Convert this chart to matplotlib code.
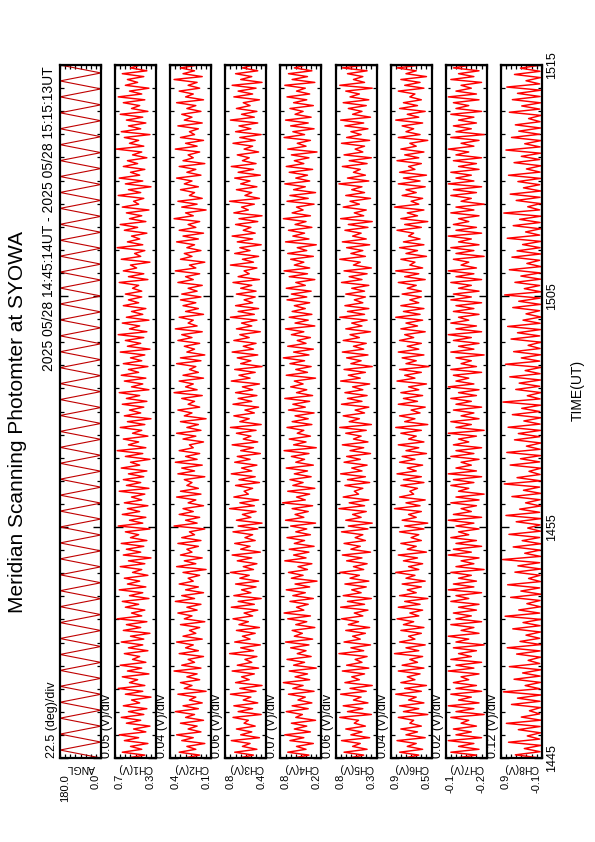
import matplotlib
matplotlib.use('Agg')
import matplotlib.pyplot as plt
import numpy as np
from matplotlib.ticker import MultipleLocator

plt.rcParams['font.family'] = ['Liberation Sans', 'DejaVu Sans']

# ---------------- data ----------------
title = "Meridian Scanning Photomter at SYOWA"
header = "2025 05/28 14:45:14UT - 2025 05/28 15:15:13UT"
names = ['ANGL', 'CH1(V)', 'CH2(V)', 'CH3(V)', 'CH4(V)', 'CH5(V)', 'CH6(V)', 'CH7(V)', 'CH8(V)']
scale_labels = ['22.5 (deg)/div', '0.05 (V)/div', '0.04 (V)/div', '0.06 (V)/div', '0.07 (V)/div',
                '0.06 (V)/div', '0.04 (V)/div', '0.02 (V)/div', '0.12 (V)/div']
vmins = [0.0, 0.30, 0.10, 0.36, 0.20, 0.30, 0.54, -0.24, -0.10]
divs = [22.5, 0.05, 0.04, 0.06, 0.07, 0.06, 0.04, 0.02, 0.12]
tick_hi = ['180.0', '0.7', '0.4', '0.8', '0.8', '0.8', '0.9', '-0.1', '0.9']
tick_lo = ['0.0', '0.3', '0.1', '0.4', '0.2', '0.3', '0.5', '-0.2', '-0.1']
time_ticks = [0, 10, 20, 30]          # minutes after 14:45
time_labels = ['1445', '1455', '1505', '1515']

ang = [0, 180, 0, 180, 0, 180, 0, 180, 0, 180, 0, 180, 0, 180, 0, 180, 0, 180, 0, 180,
       0, 180, 0, 180, 0, 180, 0, 180, 0, 180, 0, 180, 0, 180, 0, 180, 0, 180, 0, 180,
       0, 180, 0, 180, 0, 180, 0, 180, 0, 180, 0, 180, 0, 180, 0, 180, 0, 180, 0, 180,
       0, 180, 0, 180, 0, 180, 0, 180, 0, 180, 0, 180, 0, 180, 0, 180, 0, 180, 0, 180,
       0, 180, 0, 180, 0, 180, 0, 180]

ch1 = [0.58,0.41,0.63,0.44,0.55,0.38,0.61,0.47,0.66,0.40,0.52,0.36,0.59,0.45,0.64,0.42,0.57,0.39,0.62,0.46,
       0.54,0.35,0.60,0.43,0.67,0.41,0.56,0.48,0.63,0.37,0.58,0.44,0.65,0.40,0.53,0.46,0.61,0.38,0.57,0.43,
       0.64,0.42,0.55,0.36,0.62,0.45,0.59,0.39,0.68,0.44,0.54,0.41,0.60,0.47,0.63,0.37,0.56,0.43,0.66,0.40,
       0.58,0.46,0.61,0.38,0.53,0.44,0.65,0.41,0.57,0.35,0.62,0.45,0.59,0.42,0.64,0.39,0.55,0.47,0.60,0.36,
       0.67,0.43,0.56,0.40,0.63,0.46,0.58,0.38,0.61,0.44,0.54,0.41,0.66,0.37,0.59,0.45,0.62,0.42,0.57,0.39,
       0.64,0.46,0.55,0.36,0.60,0.43,0.68,0.40,0.57,0.47,0.62,0.38,0.53,0.44,0.65,0.41,0.58,0.35,0.61,0.45,
       0.56,0.42,0.63,0.39,0.59,0.46,0.66,0.37,0.54,0.43,0.61,0.40,0.64,0.47,0.57,0.38,0.62,0.44,0.55,0.41,
       0.65,0.36,0.58,0.45,0.60,0.42,0.67,0.39,0.56,0.46,0.63,0.37,0.59,0.43,0.54,0.40,0.62,0.47,0.57,0.44,
       0.60,0.44,0.53,0.47,0.66,0.38,0.57,0.42,0.62,0.49,0.55,0.36,0.64,0.45,0.51,0.41,0.68,0.43,0.58,0.46,
       0.54,0.39,0.61,0.48,0.65,0.40,0.56,0.44,0.59,0.37,0.63,0.47,0.52,0.42,0.67,0.45,0.57,0.35,0.60,0.43,
       0.66,0.46,0.55,0.41,0.62,0.48,0.58,0.39,0.53,0.44,0.69,0.42,0.56,0.47,0.61,0.36,0.64,0.45,0.57,0.40,
       0.59,0.43,0.65,0.38,0.54,0.46,0.62,0.41,0.67,0.44,0.56,0.37,0.60,0.48,0.58,0.42,0.63,0.39,0.55,0.45]

ch2 = [0.31,0.19,0.35,0.22,0.29,0.15,0.33,0.24,0.37,0.18,0.28,0.21,0.34,0.16,0.30,0.23,0.38,0.20,0.32,0.17,
       0.27,0.22,0.36,0.14,0.31,0.25,0.34,0.19,0.29,0.21,0.39,0.18,0.33,0.23,0.28,0.16,0.35,0.20,0.30,0.24,
       0.37,0.17,0.32,0.22,0.27,0.19,0.34,0.15,0.31,0.25,0.36,0.21,0.29,0.18,0.38,0.23,0.33,0.16,0.30,0.20,
       0.35,0.24,0.28,0.19,0.32,0.14,0.37,0.22,0.31,0.17,0.34,0.25,0.29,0.20,0.36,0.18,0.33,0.23,0.27,0.15,
       0.39,0.21,0.30,0.19,0.35,0.24,0.32,0.16,0.28,0.22,0.37,0.18,0.34,0.20,0.29,0.25,0.31,0.15,0.36,0.23,
       0.33,0.17,0.38,0.21,0.30,0.19,0.35,0.24,0.27,0.16,0.32,0.22,0.37,0.18,0.29,0.20,0.34,0.14,0.31,0.25,
       0.36,0.19,0.28,0.23,0.33,0.17,0.39,0.21,0.30,0.24,0.35,0.16,0.32,0.20,0.27,0.22,0.37,0.18,0.34,0.15,
       0.29,0.23,0.31,0.19,0.36,0.25,0.33,0.17,0.38,0.21,0.28,0.24,0.35,0.16,0.30,0.20,0.32,0.22,0.34,0.18,
       0.33,0.21,0.28,0.17,0.36,0.24,0.30,0.19,0.38,0.22,0.27,0.15,0.34,0.25,0.31,0.18,0.29,0.23,0.37,0.20,
       0.32,0.16,0.35,0.22,0.28,0.19,0.39,0.24,0.30,0.14,0.33,0.21,0.36,0.17,0.27,0.23,0.34,0.20,0.31,0.25,
       0.37,0.18,0.29,0.22,0.35,0.15,0.32,0.24,0.28,0.19,0.38,0.21,0.30,0.16,0.34,0.23,0.27,0.20,0.36,0.17,
       0.31,0.25,0.33,0.18,0.29,0.22,0.37,0.16,0.30,0.24,0.35,0.19,0.28,0.21,0.39,0.17,0.32,0.23,0.34,0.20]

ch3 = [0.68,0.51,0.73,0.47,0.64,0.55,0.77,0.44,0.66,0.53,0.71,0.49,0.62,0.57,0.75,0.42,0.69,0.52,0.74,0.46,
       0.63,0.54,0.78,0.48,0.67,0.41,0.72,0.56,0.65,0.50,0.76,0.45,0.70,0.53,0.61,0.47,0.79,0.51,0.66,0.43,
       0.73,0.55,0.64,0.49,0.71,0.44,0.68,0.57,0.75,0.52,0.62,0.46,0.77,0.50,0.69,0.42,0.74,0.54,0.65,0.48,
       0.72,0.45,0.67,0.56,0.78,0.51,0.63,0.47,0.70,0.53,0.76,0.43,0.66,0.55,0.73,0.49,0.61,0.52,0.75,0.46,
       0.69,0.41,0.71,0.54,0.64,0.48,0.79,0.50,0.67,0.45,0.74,0.57,0.62,0.52,0.72,0.44,0.68,0.49,0.77,0.53,
       0.65,0.47,0.73,0.55,0.70,0.43,0.66,0.51,0.76,0.46,0.63,0.54,0.71,0.48,0.78,0.42,0.67,0.56,0.74,0.50,
       0.61,0.45,0.75,0.53,0.69,0.47,0.72,0.52,0.64,0.44,0.77,0.55,0.68,0.49,0.73,0.41,0.66,0.54,0.70,0.46,
       0.76,0.51,0.63,0.48,0.74,0.56,0.67,0.43,0.71,0.53,0.65,0.47,0.78,0.50,0.69,0.45,0.72,0.52,0.62,0.49,
       0.71,0.48,0.66,0.53,0.75,0.44,0.69,0.56,0.62,0.47,0.78,0.51,0.64,0.45,0.73,0.55,0.67,0.42,0.70,0.52,
       0.76,0.49,0.63,0.54,0.72,0.46,0.68,0.41,0.74,0.57,0.65,0.50,0.79,0.44,0.61,0.53,0.71,0.47,0.66,0.55,
       0.73,0.43,0.69,0.51,0.77,0.48,0.64,0.56,0.70,0.45,0.62,0.52,0.75,0.49,0.67,0.42,0.72,0.54,0.68,0.46,
       0.78,0.50,0.65,0.47,0.71,0.55,0.63,0.44,0.74,0.52,0.69,0.48,0.76,0.41,0.66,0.53,0.72,0.46,0.64,0.51]

ch4 = [0.58,0.37,0.66,0.41,0.54,0.31,0.63,0.44,0.70,0.35,0.57,0.40,0.61,0.28,0.55,0.46,0.68,0.38,0.60,0.33,
       0.52,0.42,0.65,0.30,0.59,0.45,0.72,0.36,0.56,0.39,0.64,0.27,0.58,0.43,0.67,0.34,0.53,0.41,0.62,0.37,
       0.69,0.32,0.57,0.46,0.60,0.29,0.55,0.40,0.66,0.35,0.71,0.44,0.54,0.38,0.63,0.31,0.59,0.42,0.68,0.36,
       0.56,0.26,0.61,0.45,0.65,0.39,0.52,0.33,0.70,0.41,0.58,0.37,0.64,0.30,0.57,0.43,0.67,0.35,0.55,0.40,
       0.62,0.28,0.69,0.44,0.56,0.38,0.60,0.32,0.73,0.42,0.54,0.36,0.66,0.29,0.59,0.45,0.63,0.34,0.57,0.39,
       0.68,0.31,0.55,0.43,0.61,0.37,0.71,0.27,0.58,0.41,0.64,0.35,0.53,0.44,0.67,0.33,0.60,0.38,0.56,0.30,
       0.65,0.42,0.59,0.36,0.70,0.32,0.54,0.40,0.62,0.45,0.57,0.28,0.68,0.39,0.55,0.34,0.63,0.43,0.72,0.37,
       0.58,0.31,0.66,0.41,0.53,0.35,0.61,0.44,0.69,0.29,0.56,0.38,0.64,0.33,0.60,0.42,0.57,0.36,0.67,0.40,
       0.61,0.34,0.68,0.42,0.55,0.29,0.64,0.39,0.71,0.36,0.57,0.44,0.62,0.31,0.66,0.40,0.53,0.27,0.69,0.37,
       0.59,0.43,0.65,0.33,0.56,0.41,0.72,0.35,0.60,0.45,0.54,0.30,0.67,0.38,0.63,0.28,0.58,0.42,0.70,0.36,
       0.55,0.39,0.64,0.32,0.68,0.44,0.57,0.37,0.61,0.26,0.66,0.41,0.53,0.35,0.71,0.43,0.59,0.30,0.62,0.38,
       0.69,0.34,0.56,0.45,0.63,0.31,0.58,0.40,0.67,0.36,0.54,0.42,0.70,0.29,0.60,0.39,0.65,0.33,0.57,0.41]

ch5 = [0.62,0.45,0.68,0.41,0.58,0.49,0.71,0.38,0.60,0.47,0.66,0.43,0.56,0.51,0.73,0.36,0.64,0.46,0.69,0.40,
       0.57,0.48,0.72,0.42,0.61,0.35,0.67,0.50,0.59,0.44,0.70,0.39,0.65,0.47,0.55,0.41,0.74,0.45,0.60,0.37,
       0.68,0.49,0.58,0.43,0.66,0.38,0.63,0.51,0.71,0.46,0.56,0.40,0.72,0.44,0.64,0.36,0.69,0.48,0.59,0.42,
       0.67,0.39,0.61,0.50,0.73,0.45,0.57,0.41,0.65,0.47,0.70,0.37,0.60,0.49,0.68,0.43,0.55,0.46,0.71,0.40,
       0.63,0.35,0.66,0.48,0.58,0.42,0.74,0.44,0.62,0.39,0.69,0.51,0.56,0.46,0.67,0.38,0.64,0.43,0.72,0.47,
       0.59,0.41,0.68,0.49,0.65,0.37,0.61,0.45,0.70,0.40,0.57,0.48,0.66,0.42,0.73,0.36,0.62,0.50,0.69,0.44,
       0.55,0.39,0.71,0.47,0.64,0.41,0.67,0.46,0.58,0.38,0.72,0.49,0.63,0.43,0.68,0.35,0.60,0.48,0.65,0.40,
       0.70,0.45,0.57,0.42,0.69,0.50,0.61,0.37,0.66,0.47,0.59,0.41,0.73,0.44,0.64,0.39,0.67,0.46,0.56,0.43,
       0.66,0.44,0.59,0.39,0.71,0.47,0.62,0.41,0.68,0.36,0.57,0.49,0.73,0.43,0.60,0.46,0.65,0.38,0.70,0.42,
       0.58,0.48,0.67,0.40,0.63,0.35,0.72,0.45,0.56,0.42,0.69,0.50,0.61,0.37,0.66,0.44,0.59,0.47,0.74,0.39,
       0.64,0.43,0.57,0.49,0.70,0.41,0.62,0.36,0.68,0.46,0.55,0.44,0.71,0.38,0.65,0.48,0.60,0.40,0.67,0.45,
       0.72,0.37,0.58,0.47,0.63,0.42,0.69,0.39,0.61,0.50,0.66,0.35,0.73,0.44,0.57,0.46,0.64,0.41,0.70,0.43]

ch6 = [0.75,0.64,0.79,0.61,0.73,0.66,0.81,0.59,0.74,0.65,0.78,0.62,0.71,0.68,0.80,0.57,0.76,0.64,0.79,0.60,
       0.72,0.66,0.82,0.62,0.75,0.58,0.78,0.67,0.73,0.63,0.80,0.60,0.77,0.65,0.71,0.61,0.83,0.64,0.74,0.59,
       0.79,0.67,0.72,0.62,0.78,0.60,0.76,0.68,0.81,0.64,0.71,0.61,0.80,0.63,0.75,0.57,0.79,0.66,0.73,0.62,
       0.77,0.59,0.74,0.67,0.82,0.64,0.72,0.61,0.76,0.65,0.80,0.58,0.73,0.66,0.78,0.62,0.70,0.64,0.79,0.60,
       0.75,0.57,0.77,0.66,0.72,0.62,0.83,0.63,0.74,0.59,0.79,0.68,0.71,0.65,0.78,0.60,0.76,0.62,0.81,0.66,
       0.73,0.61,0.79,0.67,0.77,0.58,0.74,0.64,0.80,0.60,0.72,0.66,0.78,0.62,0.82,0.57,0.75,0.67,0.79,0.63,
       0.70,0.59,0.80,0.65,0.76,0.61,0.78,0.64,0.72,0.58,0.81,0.67,0.75,0.62,0.79,0.56,0.74,0.66,0.77,0.60,
       0.80,0.64,0.73,0.62,0.79,0.68,0.75,0.59,0.78,0.65,0.74,0.61,0.82,0.63,0.76,0.60,0.78,0.64,0.71,0.62,
       0.77,0.62,0.73,0.66,0.80,0.59,0.75,0.64,0.82,0.61,0.71,0.67,0.78,0.58,0.74,0.65,0.79,0.60,0.76,0.63,
       0.72,0.68,0.81,0.62,0.75,0.57,0.78,0.65,0.73,0.60,0.83,0.64,0.70,0.61,0.77,0.66,0.74,0.59,0.80,0.63,
       0.76,0.58,0.79,0.67,0.72,0.62,0.81,0.64,0.75,0.60,0.78,0.66,0.71,0.57,0.80,0.63,0.74,0.68,0.77,0.61,
       0.82,0.64,0.73,0.59,0.79,0.65,0.76,0.62,0.71,0.67,0.80,0.60,0.75,0.63,0.78,0.58,0.74,0.66,0.81,0.62]

ch7 = [-0.12,-0.20,-0.10,-0.21,-0.13,-0.19,-0.09,-0.22,-0.12,-0.18,-0.11,-0.20,-0.14,-0.17,-0.10,-0.23,-0.12,-0.19,-0.09,-0.21,
       -0.13,-0.18,-0.10,-0.22,-0.12,-0.20,-0.11,-0.17,-0.14,-0.21,-0.09,-0.19,-0.12,-0.22,-0.10,-0.18,-0.13,-0.20,-0.11,-0.23,
       -0.12,-0.17,-0.09,-0.21,-0.14,-0.19,-0.10,-0.22,-0.12,-0.18,-0.11,-0.20,-0.13,-0.21,-0.10,-0.17,-0.12,-0.22,-0.09,-0.19,
       -0.11,-0.20,-0.13,-0.18,-0.10,-0.23,-0.12,-0.19,-0.14,-0.21,-0.09,-0.18,-0.11,-0.22,-0.12,-0.20,-0.10,-0.17,-0.13,-0.21,
       -0.12,-0.19,-0.09,-0.22,-0.11,-0.18,-0.14,-0.20,-0.10,-0.21,-0.12,-0.23,-0.13,-0.17,-0.10,-0.19,-0.11,-0.22,-0.09,-0.20,
       -0.12,-0.18,-0.14,-0.21,-0.10,-0.19,-0.12,-0.22,-0.11,-0.17,-0.13,-0.20,-0.09,-0.23,-0.12,-0.18,-0.10,-0.21,-0.14,-0.19,
       -0.11,-0.22,-0.12,-0.18,-0.10,-0.20,-0.13,-0.21,-0.09,-0.19,-0.12,-0.17,-0.11,-0.22,-0.10,-0.20,-0.14,-0.18,-0.12,-0.23,
       -0.10,-0.19,-0.13,-0.21,-0.11,-0.18,-0.09,-0.22,-0.12,-0.20,-0.10,-0.17,-0.13,-0.21,-0.11,-0.19,-0.12,-0.22,-0.10,-0.18,
       -0.11,-0.21,-0.13,-0.18,-0.10,-0.22,-0.12,-0.19,-0.09,-0.20,-0.14,-0.17,-0.11,-0.23,-0.12,-0.19,-0.10,-0.21,-0.13,-0.18,
       -0.09,-0.22,-0.12,-0.20,-0.11,-0.17,-0.13,-0.21,-0.10,-0.19,-0.12,-0.23,-0.14,-0.18,-0.10,-0.20,-0.11,-0.22,-0.09,-0.19,
       -0.12,-0.18,-0.10,-0.21,-0.13,-0.20,-0.11,-0.22,-0.12,-0.17,-0.09,-0.19,-0.14,-0.21,-0.10,-0.23,-0.12,-0.18,-0.11,-0.20,
       -0.13,-0.19,-0.10,-0.22,-0.12,-0.17,-0.11,-0.21,-0.09,-0.20,-0.12,-0.18,-0.14,-0.22,-0.10,-0.19,-0.13,-0.21,-0.11,-0.18]

ch8 = [-0.07,0.52,-0.06,0.31,-0.08,0.68,-0.05,0.24,-0.07,0.45,-0.06,0.73,-0.08,0.38,-0.05,0.19,-0.07,0.61,-0.06,0.47,
       -0.08,0.80,-0.05,0.29,-0.07,0.55,-0.06,0.35,-0.08,0.66,-0.05,0.22,-0.07,0.49,-0.06,0.71,-0.08,0.41,-0.05,0.27,
       -0.07,0.58,-0.06,0.34,-0.08,0.76,-0.05,0.44,-0.07,0.25,-0.06,0.63,-0.08,0.39,-0.05,0.70,-0.07,0.21,-0.06,0.53,
       -0.08,0.46,-0.05,0.82,-0.07,0.30,-0.06,0.57,-0.08,0.36,-0.05,0.67,-0.07,0.23,-0.06,0.50,-0.08,0.74,-0.05,0.42,
       -0.07,0.28,-0.06,0.60,-0.08,0.33,-0.05,0.78,-0.07,0.48,-0.06,0.20,-0.08,0.64,-0.05,0.40,-0.07,0.72,-0.06,0.26,
       -0.08,0.54,-0.05,0.45,-0.07,0.69,-0.06,0.32,-0.08,0.59,-0.05,0.37,-0.07,0.81,-0.06,0.24,-0.08,0.51,-0.05,0.43,
       -0.07,0.65,-0.06,0.29,-0.08,0.75,-0.05,0.38,-0.07,0.56,-0.06,0.22,-0.08,0.62,-0.05,0.47,-0.07,0.70,-0.06,0.34,
       -0.08,0.27,-0.05,0.58,-0.07,0.44,-0.06,0.77,-0.08,0.31,-0.05,0.53,-0.07,0.39,-0.06,0.66,-0.08,0.25,-0.05,0.60,-0.07,
       0.48,-0.06,0.35,-0.08,0.71,-0.05,0.28,-0.07,0.57,-0.06,0.42,-0.08,0.79,-0.05,0.23,-0.07,0.50,-0.06,0.64,-0.08,
       0.33,-0.05,0.46,-0.07,0.68,-0.06,0.26,-0.08,0.55,-0.05,0.38,-0.07,0.74,-0.06,0.30,-0.08,0.61,-0.05,0.44,-0.07,
       0.52,-0.06,0.21,-0.08,0.66,-0.05,0.37,-0.07,0.59,-0.06,0.47,-0.08,0.72,-0.05,0.27,-0.07,0.54,-0.06,0.40,-0.08]

series = [ang, ch1, ch2, ch3, ch4, ch5, ch6, ch7, ch8]

# ---------------- layout (pixels) ----------------
W, H = 595, 842
fig = plt.figure(figsize=(W / 100, H / 100), dpi=100)

def fx(x):
    return x / W

def fy(y):
    return 1 - y / H

panel_top, panel_bot = 65, 758
panel_w = 41
lefts = [60 + 55.1 * i for i in range(9)]

fig.text(fx(18), fy(422), title, rotation=90, ha='center', va='center', fontsize=15)
fig.text(fx(56), fy(panel_top + 1), header, rotation=90, ha='right', va='top', fontsize=10)

for i, (vals, name, sl, vmin, dv, th, tl) in enumerate(
        zip(series, names, scale_labels, vmins, divs, tick_hi, tick_lo)):
    L = lefts[i]
    ax = fig.add_axes([fx(L), fy(panel_bot), panel_w / W, (panel_bot - panel_top) / H])
    t = np.linspace(0, 30, len(vals))
    if i == 0:
        ax.plot(vals, t, color='#c00000', lw=0.8)
    else:
        ax.plot(vals, t, color='#ff0000', lw=1.05)
    ax.set_xlim(vmin + 8 * dv, vmin)
    ax.set_ylim(0, 30)
    ax.set_xticks([vmin + k * dv for k in range(9)])
    ax.set_xticklabels([])
    ax.set_yticks(time_ticks)
    ax.set_yticklabels([])
    ax.yaxis.set_minor_locator(MultipleLocator(1))
    ax.tick_params(axis='x', direction='in', top=True, bottom=True, length=3, width=0.9)
    ax.tick_params(axis='y', which='major', direction='in', left=True, right=True, length=6, width=1.0)
    ax.tick_params(axis='y', which='minor', direction='in', left=True, right=True, length=3, width=0.9)
    for sp in ax.spines.values():
        sp.set_linewidth(1.6)

    # scale per division label
    fig.text(fx(L - 2), fy(panel_bot), sl, rotation=90, ha='right', va='bottom', fontsize=9)
    # channel name (upside down)
    fig.text(fx(L + panel_w / 2), fy(768), name, rotation=180, ha='center', va='center', fontsize=7.5)
    # edge value labels
    fig.text(fx(L), fy(774), th, rotation=90, ha='left', va='top', fontsize=8)
    fig.text(fx(L + panel_w), fy(774), tl, rotation=90, ha='right', va='top', fontsize=8)

    if i == 8:
        for tt, lab in zip(time_ticks, time_labels):
            ytick_px = panel_bot - (panel_bot - panel_top) * tt / 30
            fig.text(fx(546), fy(ytick_px), lab, rotation=90, ha='left', va='center', fontsize=9)

fig.text(fx(578), fy(390), 'TIME(UT)', rotation=90, ha='center', va='center', fontsize=10)

fig.savefig('out.png', dpi=100, facecolor='white')
